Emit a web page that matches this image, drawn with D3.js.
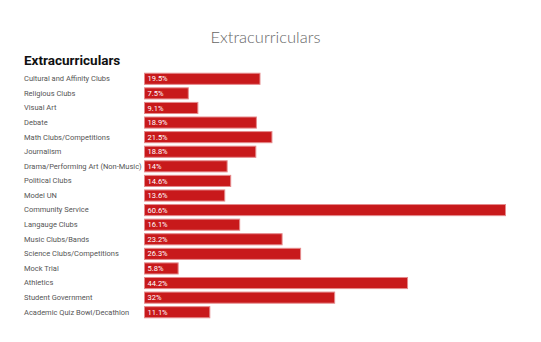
<!DOCTYPE html>
<html><head><meta charset="utf-8">
<script src="https://cdn.jsdelivr.net/npm/d3@7"></script>
<style>body{margin:0;background:#fff}svg{display:block}</style>
</head><body><svg id="c" width="541" height="342"></svg>
<script>
const categories = ["Cultural and Affinity Clubs","Religious Clubs","Visual Art","Debate","Math Clubs/Competitions","Journalism","Drama/Performing Art (Non-Music)","Political Clubs","Model UN","Community Service","Langauge Clubs","Music Clubs/Bands","Science Clubs/Competitions","Mock Trial","Athletics","Student Government","Academic Quiz Bowl/Decathlon"];
const values = [19.5,7.5,9.1,18.9,21.5,18.8,14,14.6,13.6,60.6,16.1,23.2,26.3,5.8,44.2,32,11.1];
const valueLabels = ["19.5%","7.5%","9.1%","18.9%","21.5%","18.8%","14%","14.6%","13.6%","60.6%","16.1%","23.2%","26.3%","5.8%","44.2%","32%","11.1%"];
const chartTitle = "Extracurriculars";
const svg = d3.select("#c");
const x = d3.scaleLinear().domain([0, 60.6]).range([144, 506]);
const y = d3.scaleBand().domain(categories).range([72, 319]).paddingInner(0.17).paddingOuter(0.05);
svg.append("text").attr("x",265.5).attr("y",43).attr("text-anchor","middle")
  .attr("font-family","Lato").attr("font-weight",300).attr("font-size",16.5).attr("fill","#666").text(chartTitle);
svg.append("text").attr("x",24).attr("y",65)
  .attr("font-family","Roboto").attr("font-weight",700).attr("font-size",13.5).attr("fill","#111").text(chartTitle);
const g = svg.append("g");
g.selectAll("rect").data(values).join("rect")
  .attr("x", x(0)+0.5).attr("y",(d,i)=>y(categories[i])+0.5)
  .attr("width",d=>x(d)-x(0)-1).attr("height",y.bandwidth()-1)
  .attr("fill","#c8191b").attr("stroke","#e58a8c").attr("stroke-width",1);
g.selectAll("text.v").data(valueLabels).join("text").attr("class","v")
  .attr("x",x(0)+3.5).attr("y",(d,i)=>y(categories[i])+y.bandwidth()/2).attr("dy","0.35em")
  .attr("font-family","Roboto").attr("font-size",7.5).attr("fill","#fff").text(d=>d);
const yAxis = d3.axisLeft(y).tickSize(0).tickPadding(0);
const ag = svg.append("g").attr("transform","translate(24,0)").call(yAxis);
ag.select(".domain").remove();
ag.selectAll("text").attr("text-anchor","start").attr("font-family","Roboto").attr("font-size",7.5).attr("fill","#555");
</script></body></html>
